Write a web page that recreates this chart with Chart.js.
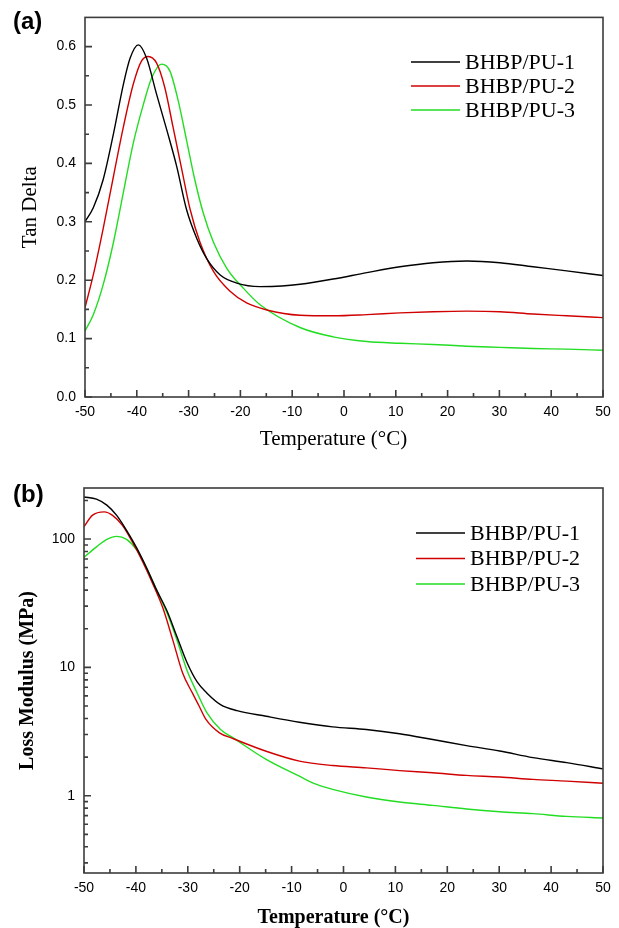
<!DOCTYPE html>
<html lang="en">
<head>
<meta charset="UTF-8" />
<title>BHBP/PU DMA</title>
<script src="https://cdn.jsdelivr.net/npm/chart.js"></script>
<style>
  body { margin: 0; background: #fff; width: 619px; height: 928px; position: relative; overflow: hidden; }
  .panel { position: absolute; left: 0; }
  .tag { position: absolute; left: 13px; font: bold 24px/24px "Liberation Sans", Arial, sans-serif; color: #000; }
</style>
</head>
<body>
<div class="panel" style="top:0"><canvas id="chartA" width="619" height="455"></canvas></div>
<div class="tag" style="top:9px">(a)</div>
<div class="panel" style="top:455px"><canvas id="chartB" width="619" height="473"></canvas></div>
<div class="tag" style="top:482px">(b)</div>
<script>
const seriesNames = ["BHBP/PU-1", "BHBP/PU-2", "BHBP/PU-3"];
const seriesColors = ["#000000", "#d00000", "#22dd22"];

// (a) Tan Delta vs temperature
const tanT1 = [-50, -48.4, -46.5, -44.5, -42.6, -41.3, -39.7, -38.1, -36.2, -34.2, -32.3, -30.4, -28.4, -26.5, -23.9, -20.7, -16.2, -12, -8.5, -2.1, 4.4, 10.8, 17.2, 23.7, 30.1, 36.5, 43, 50];
const tan1 = [0.300, 0.324, 0.372, 0.451, 0.535, 0.580, 0.603, 0.580, 0.519, 0.457, 0.395, 0.321, 0.271, 0.237, 0.209, 0.195, 0.189, 0.190, 0.193, 0.202, 0.213, 0.223, 0.230, 0.233, 0.230, 0.223, 0.216, 0.208];
const tanT2 = [-50, -48.4, -46.5, -44.5, -42.6, -40.7, -39.1, -37.8, -36.2, -34.6, -33, -31.3, -29.7, -27.8, -25.2, -22, -18.8, -14.9, -8.5, -2.1, 4.4, 10.8, 17.2, 23.7, 30.1, 36.5, 43, 50];
const tan2 = [0.153, 0.209, 0.288, 0.378, 0.462, 0.535, 0.575, 0.583, 0.572, 0.530, 0.462, 0.389, 0.321, 0.265, 0.215, 0.181, 0.161, 0.149, 0.140, 0.139, 0.141, 0.144, 0.146, 0.147, 0.146, 0.142, 0.139, 0.136];
const tanT3 = [-50, -48.4, -46.5, -44.5, -42.6, -40.7, -38.7, -37.1, -35.2, -33.6, -32, -30.4, -28.8, -27.2, -25.2, -22.6, -19.4, -16.2, -8.5, -2.1, 4.4, 10.8, 17.2, 23.7, 30.1, 36.5, 43, 50];
const tan3 = [0.113, 0.141, 0.192, 0.265, 0.350, 0.434, 0.502, 0.547, 0.570, 0.558, 0.507, 0.440, 0.372, 0.316, 0.265, 0.220, 0.186, 0.158, 0.119, 0.103, 0.095, 0.092, 0.090, 0.087, 0.085, 0.083, 0.082, 0.080];

// (b) Loss modulus (MPa) vs temperature
const lossT1 = [-50, -47.6, -45.6, -43.7, -41.8, -39.8, -37.9, -36, -34, -32.1, -30.2, -28.2, -26.3, -23.7, -20.5, -14.9, -8.5, -2.1, 4.4, 10.8, 17.2, 23.7, 30.1, 36.5, 43, 50];
const loss1 = [213, 205, 184, 153, 117, 84.7, 59.2, 40, 27.5, 17.4, 11, 7.7, 6.3, 5.13, 4.6, 4.16, 3.74, 3.44, 3.28, 3.04, 2.74, 2.46, 2.23, 1.98, 1.81, 1.62];
const lossT2 = [-50, -48.4, -46.1, -44.5, -42.6, -40.7, -38.7, -36.8, -34.8, -32.9, -31, -29.1, -27.8, -26.5, -23.9, -21.4, -14.9, -8.5, -2.1, 4.4, 10.8, 17.2, 23.7, 30.1, 36.5, 43, 50];
const loss2 = [125, 153, 163, 153, 128, 95.3, 66.6, 45.3, 29, 16.4, 9.04, 6.3, 4.98, 3.93, 3.09, 2.8, 2.22, 1.86, 1.72, 1.65, 1.57, 1.51, 1.44, 1.40, 1.34, 1.30, 1.25];
const lossT3 = [-50, -47.6, -45.6, -43.7, -41.8, -39.8, -37.9, -36, -34, -32.1, -30.2, -28.2, -26.3, -23.7, -21.4, -14.9, -8.5, -5.3, -2.1, 4.4, 10.8, 17.2, 23.7, 30.1, 36.5, 43, 50];
const loss3 = [72, 87, 99.5, 105, 99.5, 82, 59, 40, 26.5, 16.4, 9.6, 6.32, 4.42, 3.28, 2.85, 1.92, 1.42, 1.23, 1.12, 0.977, 0.893, 0.841, 0.789, 0.751, 0.725, 0.69, 0.671];

// tick positions
const xMajor = [-50, -40, -30, -20, -10, 0, 10, 20, 30, 40, 50];
const xMinor = [-45, -35, -25, -15, -5, 5, 15, 25, 35, 45];
const tanMajor = [0, 0.1, 0.2, 0.3, 0.4, 0.5, 0.6];
const tanMinor = [0.05, 0.15, 0.25, 0.35, 0.45, 0.55];
const lossMajor = [1, 10, 100];
const lossMinor = [0.3, 0.4, 0.5, 0.6, 0.7, 0.8, 0.9, 2, 3, 4, 5, 6, 7, 8, 9, 20, 30, 40, 50, 60, 70, 80, 90, 200];

const serif = "'Liberation Serif', 'Times New Roman', serif";
const sans = "'Liberation Sans', Arial, sans-serif";

function pts(xs, ys) {
  return xs.map((x, i) => ({ x: x, y: ys[i] }));
}

function makeSets(pairs) {
  return pairs.map((p, i) => ({
    label: seriesNames[i],
    data: pts(p[0], p[1]),
    borderColor: seriesColors[i],
    borderWidth: 1.4,
    pointRadius: 0,
    cubicInterpolationMode: "monotone",
    fill: false
  }));
}

// frame box + inward ticks, drawn from the scales
const frameTicks = {
  id: "frameTicks",
  afterDraw(chart, args, o) {
    const { ctx, chartArea: a, scales: { x, y } } = chart;
    ctx.save();
    ctx.strokeStyle = "#3c3c3c";
    ctx.lineWidth = 1.6;
    ctx.strokeRect(a.left, a.top, a.right - a.left, a.bottom - a.top);
    ctx.beginPath();
    const xt = (vals, len) => vals.forEach(v => {
      const p = x.getPixelForValue(v);
      ctx.moveTo(p, a.bottom); ctx.lineTo(p, a.bottom - len);
    });
    const yt = (vals, len) => vals.forEach(v => {
      const p = y.getPixelForValue(v);
      ctx.moveTo(a.left, p); ctx.lineTo(a.left + len, p);
    });
    xt(o.xMajor, 7); xt(o.xMinor, 4);
    yt(o.yMajor, 7); yt(o.yMinor, 4);
    ctx.stroke();
    ctx.restore();
  }
};

// legend drawn inside the plot
const innerLegend = {
  id: "innerLegend",
  afterDraw(chart, args, o) {
    const ctx = chart.ctx;
    ctx.save();
    ctx.font = "22px " + serif;
    ctx.textBaseline = "middle";
    ctx.textAlign = "left";
    chart.data.datasets.forEach((ds, i) => {
      const yy = o.y + i * o.gap;
      ctx.strokeStyle = ds.borderColor;
      ctx.lineWidth = 1.4;
      ctx.beginPath();
      ctx.moveTo(o.x, yy); ctx.lineTo(o.x + 49, yy);
      ctx.stroke();
      ctx.fillStyle = "#000";
      ctx.fillText(ds.label, o.x + 54, yy + 1);
    });
    ctx.restore();
  }
};

function baseX(titleFont, titlePad, h) {
  return {
    type: "linear",
    min: -50,
    max: 50,
    afterBuildTicks: s => { s.ticks = xMajor.map(v => ({ value: v })); },
    afterFit: s => { s.height = h; },
    grid: { display: false, drawTicks: false },
    border: { display: false },
    ticks: { color: "#000", padding: 7, font: { family: sans, size: 14 } },
    title: { display: true, text: "Temperature (°C)    ", color: "#000", font: titleFont, padding: titlePad }
  };
}

new Chart(document.getElementById("chartA"), {
  type: "line",
  data: { datasets: makeSets([[tanT1, tan1], [tanT2, tan2], [tanT3, tan3]]) },
  options: {
    responsive: false,
    animation: false,
    layout: { padding: { left: 0, top: 12, right: 16, bottom: 0 } },
    plugins: {
      legend: { display: false },
      tooltip: { enabled: false },
      frameTicks: { xMajor: xMajor, xMinor: xMinor, yMajor: tanMajor, yMinor: tanMinor },
      innerLegend: { x: 411, y: 62, gap: 24 }
    },
    scales: {
      x: baseX({ family: serif, size: 21 }, { top: 0, bottom: 3 }, 58),
      y: {
        type: "linear",
        min: 0,
        max: 0.65,
        afterBuildTicks: s => { s.ticks = tanMajor.map(v => ({ value: v })); },
        afterFit: s => { s.width = 85; },
        grid: { display: false, drawTicks: false },
        border: { display: false },
        ticks: { color: "#000", padding: 9, font: { family: sans, size: 14 }, callback: v => v.toFixed(1) },
        title: { display: true, text: "Tan Delta", color: "#000", font: { family: serif, size: 21 }, padding: { top: 18, bottom: 0 } }
      }
    }
  },
  plugins: [frameTicks, innerLegend]
});

new Chart(document.getElementById("chartB"), {
  type: "line",
  data: { datasets: makeSets([[lossT1, loss1], [lossT2, loss2], [lossT3, loss3]]) },
  options: {
    responsive: false,
    animation: false,
    layout: { padding: { left: 0, top: 33, right: 16, bottom: 0 } },
    plugins: {
      legend: { display: false },
      tooltip: { enabled: false },
      frameTicks: { xMajor: xMajor, xMinor: xMinor, yMajor: lossMajor, yMinor: lossMinor },
      innerLegend: { x: 416, y: 78, gap: 25.5 }
    },
    scales: {
      x: baseX({ family: serif, size: 20, weight: "bold" }, { top: 0, bottom: -2 }, 55),
      y: {
        type: "logarithmic",
        min: 0.25,
        max: 250,
        afterBuildTicks: s => { s.ticks = lossMajor.map(v => ({ value: v })); },
        afterFit: s => { s.width = 84; },
        grid: { display: false, drawTicks: false },
        border: { display: false },
        ticks: { color: "#000", padding: 9, font: { family: sans, size: 14 }, callback: v => String(v) },
        title: { display: true, text: "Loss Modulus (MPa)", color: "#000", font: { family: serif, size: 20, weight: "bold" }, padding: { top: 16, bottom: 0 } }
      }
    }
  },
  plugins: [frameTicks, innerLegend]
});
</script>
</body>
</html>
